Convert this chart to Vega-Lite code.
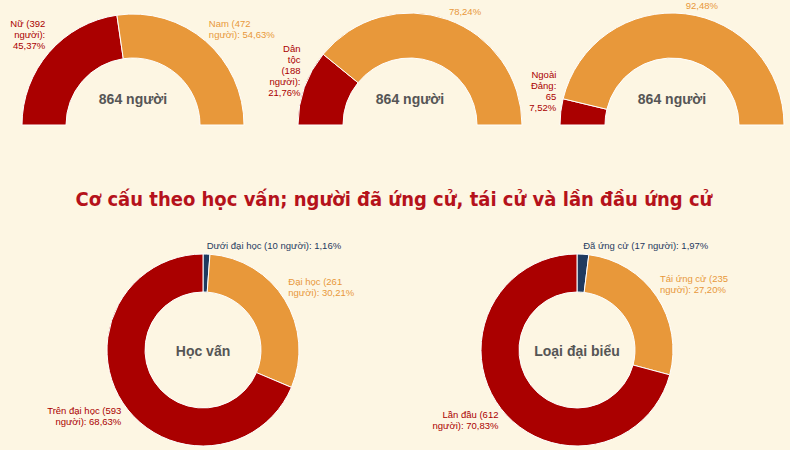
{
  "$schema": "https://vega.github.io/schema/vega-lite/v6.json",
  "background": "#fdf6e3",
  "padding": 0,
  "spacing": 0,
  "resolve": {"scale": {"color": "independent", "theta": "independent"}},
  "config": {"view": {"stroke": null}, "text": {"font": "Liberation Sans"}},
  "vconcat": [
    {
      "resolve": {"scale": {"color": "independent", "theta": "independent"}},
      "hconcat": [
        {
          "width": 266, "height": 125,
          "layer": [
            {
              "data": {"values": [
                {"cat": "Nữ", "value": 392, "label": "Nữ (392\nngười):\n45,37%"},
                {"cat": "Nam", "value": 472, "label": "Nam (472\nngười): 54,63%"}
              ]},
              "encoding": {
                "theta": {"field": "value", "type": "quantitative", "stack": true, "scale": {"range": [-1.5708, 1.5708]}},
                "color": {"field": "cat", "type": "nominal", "scale": {"domain": ["Nữ", "Nam"], "range": ["#aa0000", "#e8983a"]}, "legend": null},
                "order": {"field": "value", "type": "quantitative", "sort": "ascending"},
                "y": {"value": "height"}
              },
              "layer": [
                {"mark": {"type": "arc", "outerRadius": 111, "innerRadius": 67, "stroke": "#ffffff", "strokeWidth": 1}},
                {"mark": {"type": "text", "radius": 116, "align": "right", "baseline": "middle", "fontSize": 9.5, "lineBreak": "\n", "lineHeight": 11, "dy": -25},
                 "encoding": {"text": {"condition": {"test": "datum.cat === 'Nữ'", "field": "label"}, "value": ""}}},
                {"mark": {"type": "text", "radius": 116, "align": "left", "baseline": "middle", "fontSize": 9.5, "lineBreak": "\n", "lineHeight": 11, "dy": -13},
                 "encoding": {"text": {"condition": {"test": "datum.cat === 'Nam'", "field": "label"}, "value": ""}}}
              ]
            },
            {
              "data": {"values": [{"t": "864 người"}]},
              "mark": {"type": "text", "fontSize": 14, "fontWeight": "bold", "color": "#555555", "baseline": "middle", "dy": -25},
              "encoding": {"text": {"field": "t"}, "y": {"value": "height"}}
            }
          ]
        },
        {
          "width": 288, "height": 125,
          "layer": [
            {
              "data": {"values": [
                {"cat": "Dân tộc", "value": 188, "label": "Dân\ntộc\n(188\nngười):\n21,76%"},
                {"cat": "Còn lại", "value": 676, "label": "78,24%"}
              ]},
              "encoding": {
                "theta": {"field": "value", "type": "quantitative", "stack": true, "scale": {"range": [-1.5708, 1.5708]}},
                "color": {"field": "cat", "type": "nominal", "scale": {"domain": ["Dân tộc", "Còn lại"], "range": ["#aa0000", "#e8983a"]}, "legend": null},
                "order": {"field": "value", "type": "quantitative", "sort": "ascending"},
                "y": {"value": "height"}
              },
              "layer": [
                {"mark": {"type": "arc", "outerRadius": 112, "innerRadius": 67, "stroke": "#ffffff", "strokeWidth": 1}},
                {"mark": {"type": "text", "radius": 60, "align": "right", "baseline": "middle", "fontSize": 9.5, "lineBreak": "\n", "lineHeight": 11, "dx": -53, "dy": -56},
                 "encoding": {"text": {"condition": {"test": "datum.cat === 'Dân tộc'", "field": "label"}, "value": ""}}},
                {"mark": {"type": "text", "radius": 116, "align": "left", "baseline": "middle", "fontSize": 9.5, "lineBreak": "\n", "lineHeight": 11, "dy": -4},
                 "encoding": {"text": {"condition": {"test": "datum.cat === 'Còn lại'", "field": "label"}, "value": ""}}}
              ]
            },
            {
              "data": {"values": [{"t": "864 người"}]},
              "mark": {"type": "text", "fontSize": 14, "fontWeight": "bold", "color": "#555555", "baseline": "middle", "dy": -25},
              "encoding": {"text": {"field": "t"}, "y": {"value": "height"}}
            }
          ]
        },
        {
          "width": 236, "height": 125,
          "layer": [
            {
              "data": {"values": [
                {"cat": "Ngoài Đảng", "value": 65, "label": "Ngoài\nĐảng:\n65\n7,52%"},
                {"cat": "Đảng viên", "value": 799, "label": "92,48%"}
              ]},
              "encoding": {
                "theta": {"field": "value", "type": "quantitative", "stack": true, "scale": {"range": [-1.5708, 1.5708]}},
                "color": {"field": "cat", "type": "nominal", "scale": {"domain": ["Ngoài Đảng", "Đảng viên"], "range": ["#aa0000", "#e8983a"]}, "legend": null},
                "order": {"field": "value", "type": "quantitative", "sort": "ascending"},
                "y": {"value": "height"}
              },
              "layer": [
                {"mark": {"type": "arc", "outerRadius": 112, "innerRadius": 67, "stroke": "#ffffff", "strokeWidth": 1}},
                {"mark": {"type": "text", "radius": 40, "align": "right", "baseline": "middle", "fontSize": 9.5, "lineBreak": "\n", "lineHeight": 11, "dx": -76, "dy": -45},
                 "encoding": {"text": {"condition": {"test": "datum.cat === 'Ngoài Đảng'", "field": "label"}, "value": ""}}},
                {"mark": {"type": "text", "radius": 117, "align": "left", "baseline": "middle", "fontSize": 9.5, "lineBreak": "\n", "lineHeight": 11, "dy": -3},
                 "encoding": {"text": {"condition": {"test": "datum.cat === 'Đảng viên'", "field": "label"}, "value": ""}}}
              ]
            },
            {
              "data": {"values": [{"t": "864 người"}]},
              "mark": {"type": "text", "fontSize": 14, "fontWeight": "bold", "color": "#555555", "baseline": "middle", "dy": -25},
              "encoding": {"text": {"field": "t"}, "y": {"value": "height"}}
            }
          ]
        }
      ],
      "spacing": 0,
      "bounds": "flush"
    },
    {
      "width": 788, "height": 91.5,
      "data": {"values": [{"t": "Cơ cấu theo học vấn; người đã ứng cử, tái cử và lần đầu ứng cử"}]},
      "mark": {"type": "text", "font": "Liberation Sans Narrow, DejaVu Sans Condensed, Liberation Sans", "fontSize": 20, "fontWeight": "bold", "color": "#b5121b", "baseline": "middle", "dy": 26.5},
      "encoding": {"text": {"field": "t"}}
    },
    {
      "resolve": {"scale": {"color": "independent", "theta": "independent"}},
      "hconcat": [
        {
          "width": 406, "height": 260,
          "layer": [
            {
              "data": {"values": [
                {"cat": "Dưới đại học", "value": 10, "label": "Dưới đại học (10 người): 1,16%"},
                {"cat": "Đại học", "value": 261, "label": "Đại học (261\nngười): 30,21%"},
                {"cat": "Trên đại học", "value": 593, "label": "Trên đại học (593\nngười): 68,63%"}
              ]},
              "encoding": {
                "theta": {"field": "value", "type": "quantitative", "stack": true},
                "color": {"field": "cat", "type": "nominal", "scale": {"domain": ["Dưới đại học", "Đại học", "Trên đại học"], "range": ["#1f3a5f", "#e8983a", "#aa0000"]}, "legend": null},
                "order": {"field": "value", "type": "quantitative", "sort": "ascending"}
              },
              "layer": [
                {"mark": {"type": "arc", "outerRadius": 96, "innerRadius": 58, "stroke": "#ffffff", "strokeWidth": 1}},
                {"mark": {"type": "text", "radius": 100, "align": "left", "baseline": "middle", "fontSize": 9.5, "lineBreak": "\n", "lineHeight": 11, "dy": -4},
                 "encoding": {"text": {"condition": {"test": "datum.cat === 'Dưới đại học'", "field": "label"}, "value": ""}}},
                {"mark": {"type": "text", "radius": 100, "align": "left", "baseline": "middle", "fontSize": 9.5, "lineBreak": "\n", "lineHeight": 11, "dy": -16},
                 "encoding": {"text": {"condition": {"test": "datum.cat === 'Đại học'", "field": "label"}, "value": ""}}},
                {"mark": {"type": "text", "radius": 98, "align": "right", "baseline": "top", "fontSize": 9.5, "lineBreak": "\n", "lineHeight": 11, "dy": 2},
                 "encoding": {"text": {"condition": {"test": "datum.cat === 'Trên đại học'", "field": "label"}, "value": ""}}}
              ]
            },
            {
              "data": {"values": [{"t": "Học vấn"}]},
              "mark": {"type": "text", "fontSize": 14, "fontWeight": "bold", "color": "#555555", "baseline": "middle", "dy": 2},
              "encoding": {"text": {"field": "t"}}
            }
          ]
        },
        {
          "width": 342, "height": 260,
          "layer": [
            {
              "data": {"values": [
                {"cat": "Đã ứng cử", "value": 17, "label": "Đã ứng cử (17 người): 1,97%"},
                {"cat": "Tái ứng cử", "value": 235, "label": "Tái ứng cử (235\nngười): 27,20%"},
                {"cat": "Lần đầu", "value": 612, "label": "Lần đầu (612\nngười): 70,83%"}
              ]},
              "encoding": {
                "theta": {"field": "value", "type": "quantitative", "stack": true},
                "color": {"field": "cat", "type": "nominal", "scale": {"domain": ["Đã ứng cử", "Tái ứng cử", "Lần đầu"], "range": ["#1f3a5f", "#e8983a", "#aa0000"]}, "legend": null},
                "order": {"field": "value", "type": "quantitative", "sort": "ascending"}
              },
              "layer": [
                {"mark": {"type": "arc", "outerRadius": 96, "innerRadius": 58, "stroke": "#ffffff", "strokeWidth": 1}},
                {"mark": {"type": "text", "radius": 100, "align": "left", "baseline": "middle", "fontSize": 9.5, "lineBreak": "\n", "lineHeight": 11, "dy": -4},
                 "encoding": {"text": {"condition": {"test": "datum.cat === 'Đã ứng cử'", "field": "label"}, "value": ""}}},
                {"mark": {"type": "text", "radius": 100, "align": "left", "baseline": "middle", "fontSize": 9.5, "lineBreak": "\n", "lineHeight": 11, "dy": -15},
                 "encoding": {"text": {"condition": {"test": "datum.cat === 'Tái ứng cử'", "field": "label"}, "value": ""}}},
                {"mark": {"type": "text", "radius": 99, "align": "right", "baseline": "top", "fontSize": 9.5, "lineBreak": "\n", "lineHeight": 11, "dy": 0},
                 "encoding": {"text": {"condition": {"test": "datum.cat === 'Lần đầu'", "field": "label"}, "value": ""}}}
              ]
            },
            {
              "data": {"values": [{"t": "Loại đại biểu"}]},
              "mark": {"type": "text", "fontSize": 14, "fontWeight": "bold", "color": "#555555", "baseline": "middle", "dy": 2},
              "encoding": {"text": {"field": "t"}}
            }
          ]
        }
      ],
      "spacing": 0,
      "bounds": "flush"
    }
  ]
}
